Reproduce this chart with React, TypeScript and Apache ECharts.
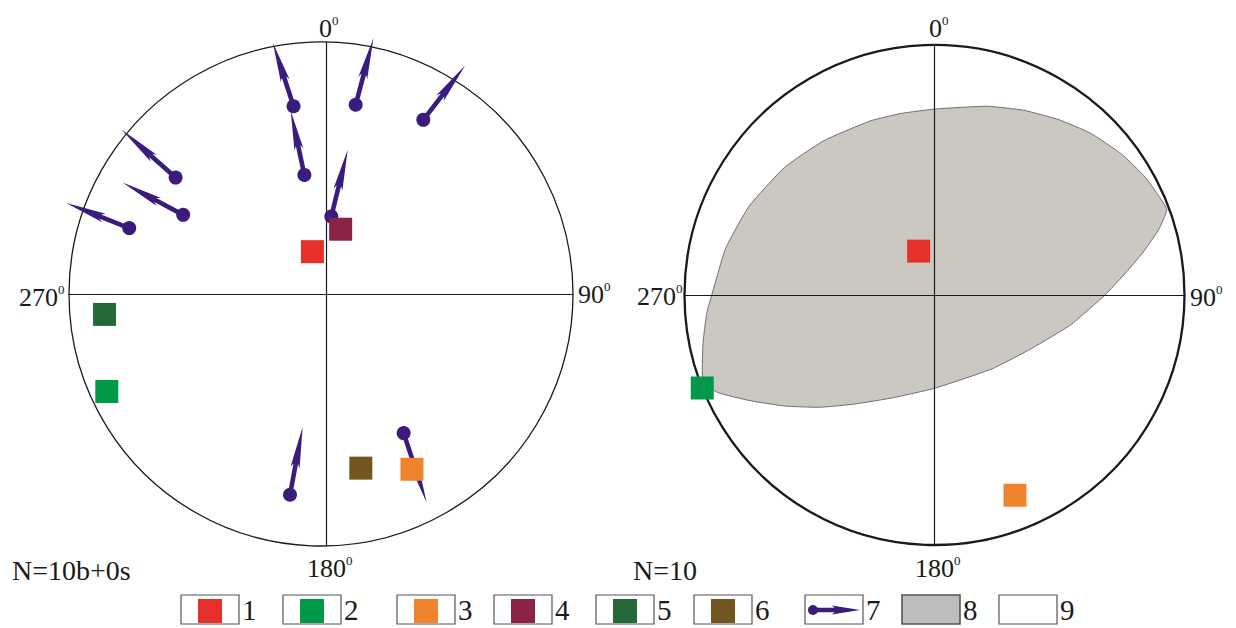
import React, { useEffect, useRef } from "react";
import * as echarts from "echarts";

// ---------- data (unit-circle coordinates: E = east, N = north, radius = 1) ----------
const classColors = ["#e8302a", "#00994a", "#f0842c", "#8b2345", "#25693a", "#735520"];
const arrowColor = "#3b1c7d";

// left stereonet: lineation arrows [dotE, dotN, tipE, tipN]
const leftArrows = [
  [-0.129, 0.745, -0.211, 0.997],
  [0.1175, 0.751, 0.188, 1.015],
  [0.386, 0.691, 0.552, 0.907],
  [-0.086, 0.4725, -0.14, 0.726],
  [0.021, 0.308, 0.086, 0.572],
  [-0.597, 0.462, -0.812, 0.653],
  [-0.567, 0.314, -0.8075, 0.442],
  [-0.781, 0.2615, -1.031, 0.361],
  [-0.143, -0.7965, -0.093, -0.528],
  [0.308, -0.552, 0.399, -0.827],
];

// left stereonet: square markers
const leftSquareClass = [1, 4, 5, 2, 6, 3];
const leftSquareE = [-0.054, 0.058, -0.879, -0.87, 0.138, 0.341];
const leftSquareN = [0.168, 0.257, -0.081, -0.387, -0.691, -0.6955];

// right stereonet: square markers
const rightSquareClass = [1, 2, 3];
const rightSquareE = [-0.0635, -0.929, 0.322];
const rightSquareN = [0.1755, -0.372, -0.801];

// right stereonet: shaded region outline
const regionE = [
  -0.926, -0.926, -0.911, -0.8855, -0.835, -0.741, -0.6, -0.443, -0.255, -0.129, 0.004, 0.153, 0.216,
  0.357, 0.498, 0.6235, 0.749, 0.843, 0.898, 0.929, 0.898, 0.835, 0.757, 0.682, 0.545, 0.388, 0.231,
  0.004, -0.161, -0.318, -0.459, -0.6, -0.741, -0.867,
];
const regionN = [
  -0.349, -0.195, -0.073, 0.019, 0.188, 0.356, 0.51, 0.617, 0.697, 0.727, 0.744, 0.753, 0.755, 0.739,
  0.701, 0.6475, 0.563, 0.471, 0.395, 0.341, 0.264, 0.172, 0.08, 0.0, -0.119, -0.214, -0.295, -0.372,
  -0.41, -0.436, -0.449, -0.444, -0.422, -0.39,
];

const directionLabels = ["0", "90", "180", "270"];
const leftCountLabel = "N=10b+0s";
const rightCountLabel = "N=10";
const legendLabels = ["1", "2", "3", "4", "5", "6", "7", "8", "9"];

// ---------- styling ----------
const FONT = "Liberation Serif";
const INK = "#1a1a1a";

function arrowPoints(p0: number[], p1: number[]) {
  const dx = p1[0] - p0[0];
  const dy = p1[1] - p0[1];
  const L = Math.hypot(dx, dy) || 1;
  const ux = dx / L, uy = dy / L;
  const nx = -uy, ny = ux;
  const P = (t: number, w: number) => [p0[0] + ux * L * t + nx * w, p0[1] + uy * L * t + ny * w];
  return [P(0, 2.3), P(0.46, 2.3), P(0.4, 4.6), P(1, 0), P(0.4, -4.6), P(0.46, -2.3), P(0, -2.3)];
}

function degText(x: number, y: number, num: string) {
  return {
    type: "text",
    x,
    y,
    silent: true,
    style: {
      text: `{a|${num}}{b|0}`,
      fontFamily: FONT,
      align: "left",
      verticalAlign: "middle",
      rich: {
        a: { fontSize: 26, fontFamily: FONT, fill: INK, lineHeight: 28 },
        b: { fontSize: 13, fontFamily: FONT, fill: INK, verticalAlign: "top" },
      },
    },
  };
}

function plainText(x: number, y: number, text: string, size: number) {
  return {
    type: "text",
    x,
    y,
    silent: true,
    style: { text, fontSize: size, fontFamily: FONT, fill: INK, align: "left", verticalAlign: "middle" },
  };
}

function arrowRender(params: any, api: any) {
  const p0 = api.coord([api.value(0), api.value(1)]);
  const p1 = api.coord([api.value(2), api.value(3)]);
  return {
    type: "group",
    children: [
      { type: "polygon", shape: { points: arrowPoints(p0, p1) }, style: { fill: arrowColor } },
      { type: "circle", shape: { cx: p0[0], cy: p0[1], r: 7 }, style: { fill: arrowColor } },
    ],
  };
}

function buildLegend() {
  const lefts = [181, 283, 397, 494, 596, 694, 805, 902, 999];
  const W = 58, top = 595, H = 29;
  const els: any[] = [];
  lefts.forEach((x, i) => {
    els.push({
      type: "rect",
      shape: { x, y: top, width: W, height: H },
      style: { fill: i === 7 ? "#bdbdbd" : "#fff", stroke: "#555", lineWidth: i === 7 ? 1.6 : 1.2 },
      silent: true,
    });
    if (i < 6) {
      els.push({
        type: "rect",
        shape: { x: x + W / 2 - 12, y: top + 4, width: 24, height: 24 },
        style: { fill: classColors[i] },
        silent: true,
      });
    }
    if (i === 6) {
      const p0 = [x + 8, top + 15];
      const p1 = [x + W - 3, top + 15];
      els.push({ type: "polygon", shape: { points: arrowPoints(p0, p1) }, style: { fill: arrowColor }, silent: true });
      els.push({ type: "circle", shape: { cx: p0[0], cy: p0[1], r: 5 }, style: { fill: arrowColor }, silent: true });
    }
    els.push(plainText(x + W + 3, top + 15, legendLabels[i], 29));
  });
  return els;
}

function axisCommon(extra: any) {
  return {
    type: "value",
    axisLine: { show: true, onZero: true, lineStyle: { color: INK, width: 1.2 } },
    axisTick: { show: false },
    axisLabel: { show: false },
    splitLine: { show: false },
    z: 3,
    ...extra,
  };
}

function squareData(cls: number[], es: number[], ns: number[]) {
  return es.map((e, i) => ({ value: [e, ns[i]], itemStyle: { color: classColors[cls[i] - 1], opacity: 1 } }));
}

export default function App() {
  const ref = useRef<HTMLDivElement>(null);
  useEffect(() => {
    document.body.style.margin = "0";
    if (!ref.current) return;
    const chart = echarts.init(ref.current, undefined, { renderer: "svg" });
    const option: any = {
      animation: false,
      backgroundColor: "#ffffff",
      textStyle: { fontFamily: FONT },
      polar: [
        { center: [321, 294], radius: 252 },
        { center: [934.5, 295], radius: 250 },
      ],
      angleAxis: [0, 1].map((k) => ({
        polarIndex: k,
        type: "value",
        startAngle: 90,
        clockwise: true,
        min: 0,
        max: 360,
        axisLine: { show: true, lineStyle: { color: INK, width: k === 0 ? 1.3 : 2.3 } },
        axisTick: { show: false },
        axisLabel: { show: false },
        splitLine: { show: false },
        z: 3,
      })),
      radiusAxis: [0, 1].map((k) => ({ polarIndex: k, type: "value", min: 0, max: 1, show: false })),
      grid: [
        { left: 69, top: 42, width: 504, height: 504 },
        { left: 684.5, top: 45, width: 500, height: 500 },
      ],
      xAxis: [axisCommon({ gridIndex: 0, min: -1.02, max: 0.98 }), axisCommon({ gridIndex: 1, min: -1, max: 1 })],
      yAxis: [axisCommon({ gridIndex: 0, min: -1, max: 1 }), axisCommon({ gridIndex: 1, min: -1, max: 1 })],
      series: [
        {
          type: "custom",
          name: "region",
          xAxisIndex: 1,
          yAxisIndex: 1,
          z: 1,
          silent: true,
          data: [[0, 0]],
          renderItem: (params: any, api: any) => ({
            type: "polygon",
            shape: { points: regionE.map((e, i) => api.coord([e, regionN[i]])), smooth: 0.15 },
            style: { fill: "#cbc7c1", stroke: "#6f6f6f", lineWidth: 1 },
          }),
        },
        {
          type: "custom",
          name: "arrows",
          xAxisIndex: 0,
          yAxisIndex: 0,
          z: 4,
          silent: true,
          data: leftArrows,
          encode: { x: [0, 2], y: [1, 3] },
          renderItem: arrowRender,
        },
        {
          type: "scatter",
          xAxisIndex: 0,
          yAxisIndex: 0,
          symbol: "rect",
          symbolSize: 23,
          z: 5,
          silent: true,
          itemStyle: { opacity: 1 },
          data: squareData(leftSquareClass, leftSquareE, leftSquareN),
        },
        {
          type: "scatter",
          xAxisIndex: 1,
          yAxisIndex: 1,
          symbol: "rect",
          symbolSize: 23,
          z: 5,
          silent: true,
          itemStyle: { opacity: 1 },
          data: squareData(rightSquareClass, rightSquareE, rightSquareN),
        },
      ],
      graphic: [
        degText(319, 28, directionLabels[0]),
        degText(578, 294, directionLabels[1]),
        degText(307, 568, directionLabels[2]),
        degText(19, 297, directionLabels[3]),
        degText(929, 28, directionLabels[0]),
        degText(1190, 297, directionLabels[1]),
        degText(915, 568, directionLabels[2]),
        degText(637, 296, directionLabels[3]),
        plainText(12, 570, leftCountLabel, 28),
        plainText(633, 570, rightCountLabel, 28),
        ...buildLegend(),
      ],
    };
    chart.setOption(option);
    return () => chart.dispose();
  }, []);
  return <div ref={ref} style={{ width: 1236, height: 628 }} />;
}
